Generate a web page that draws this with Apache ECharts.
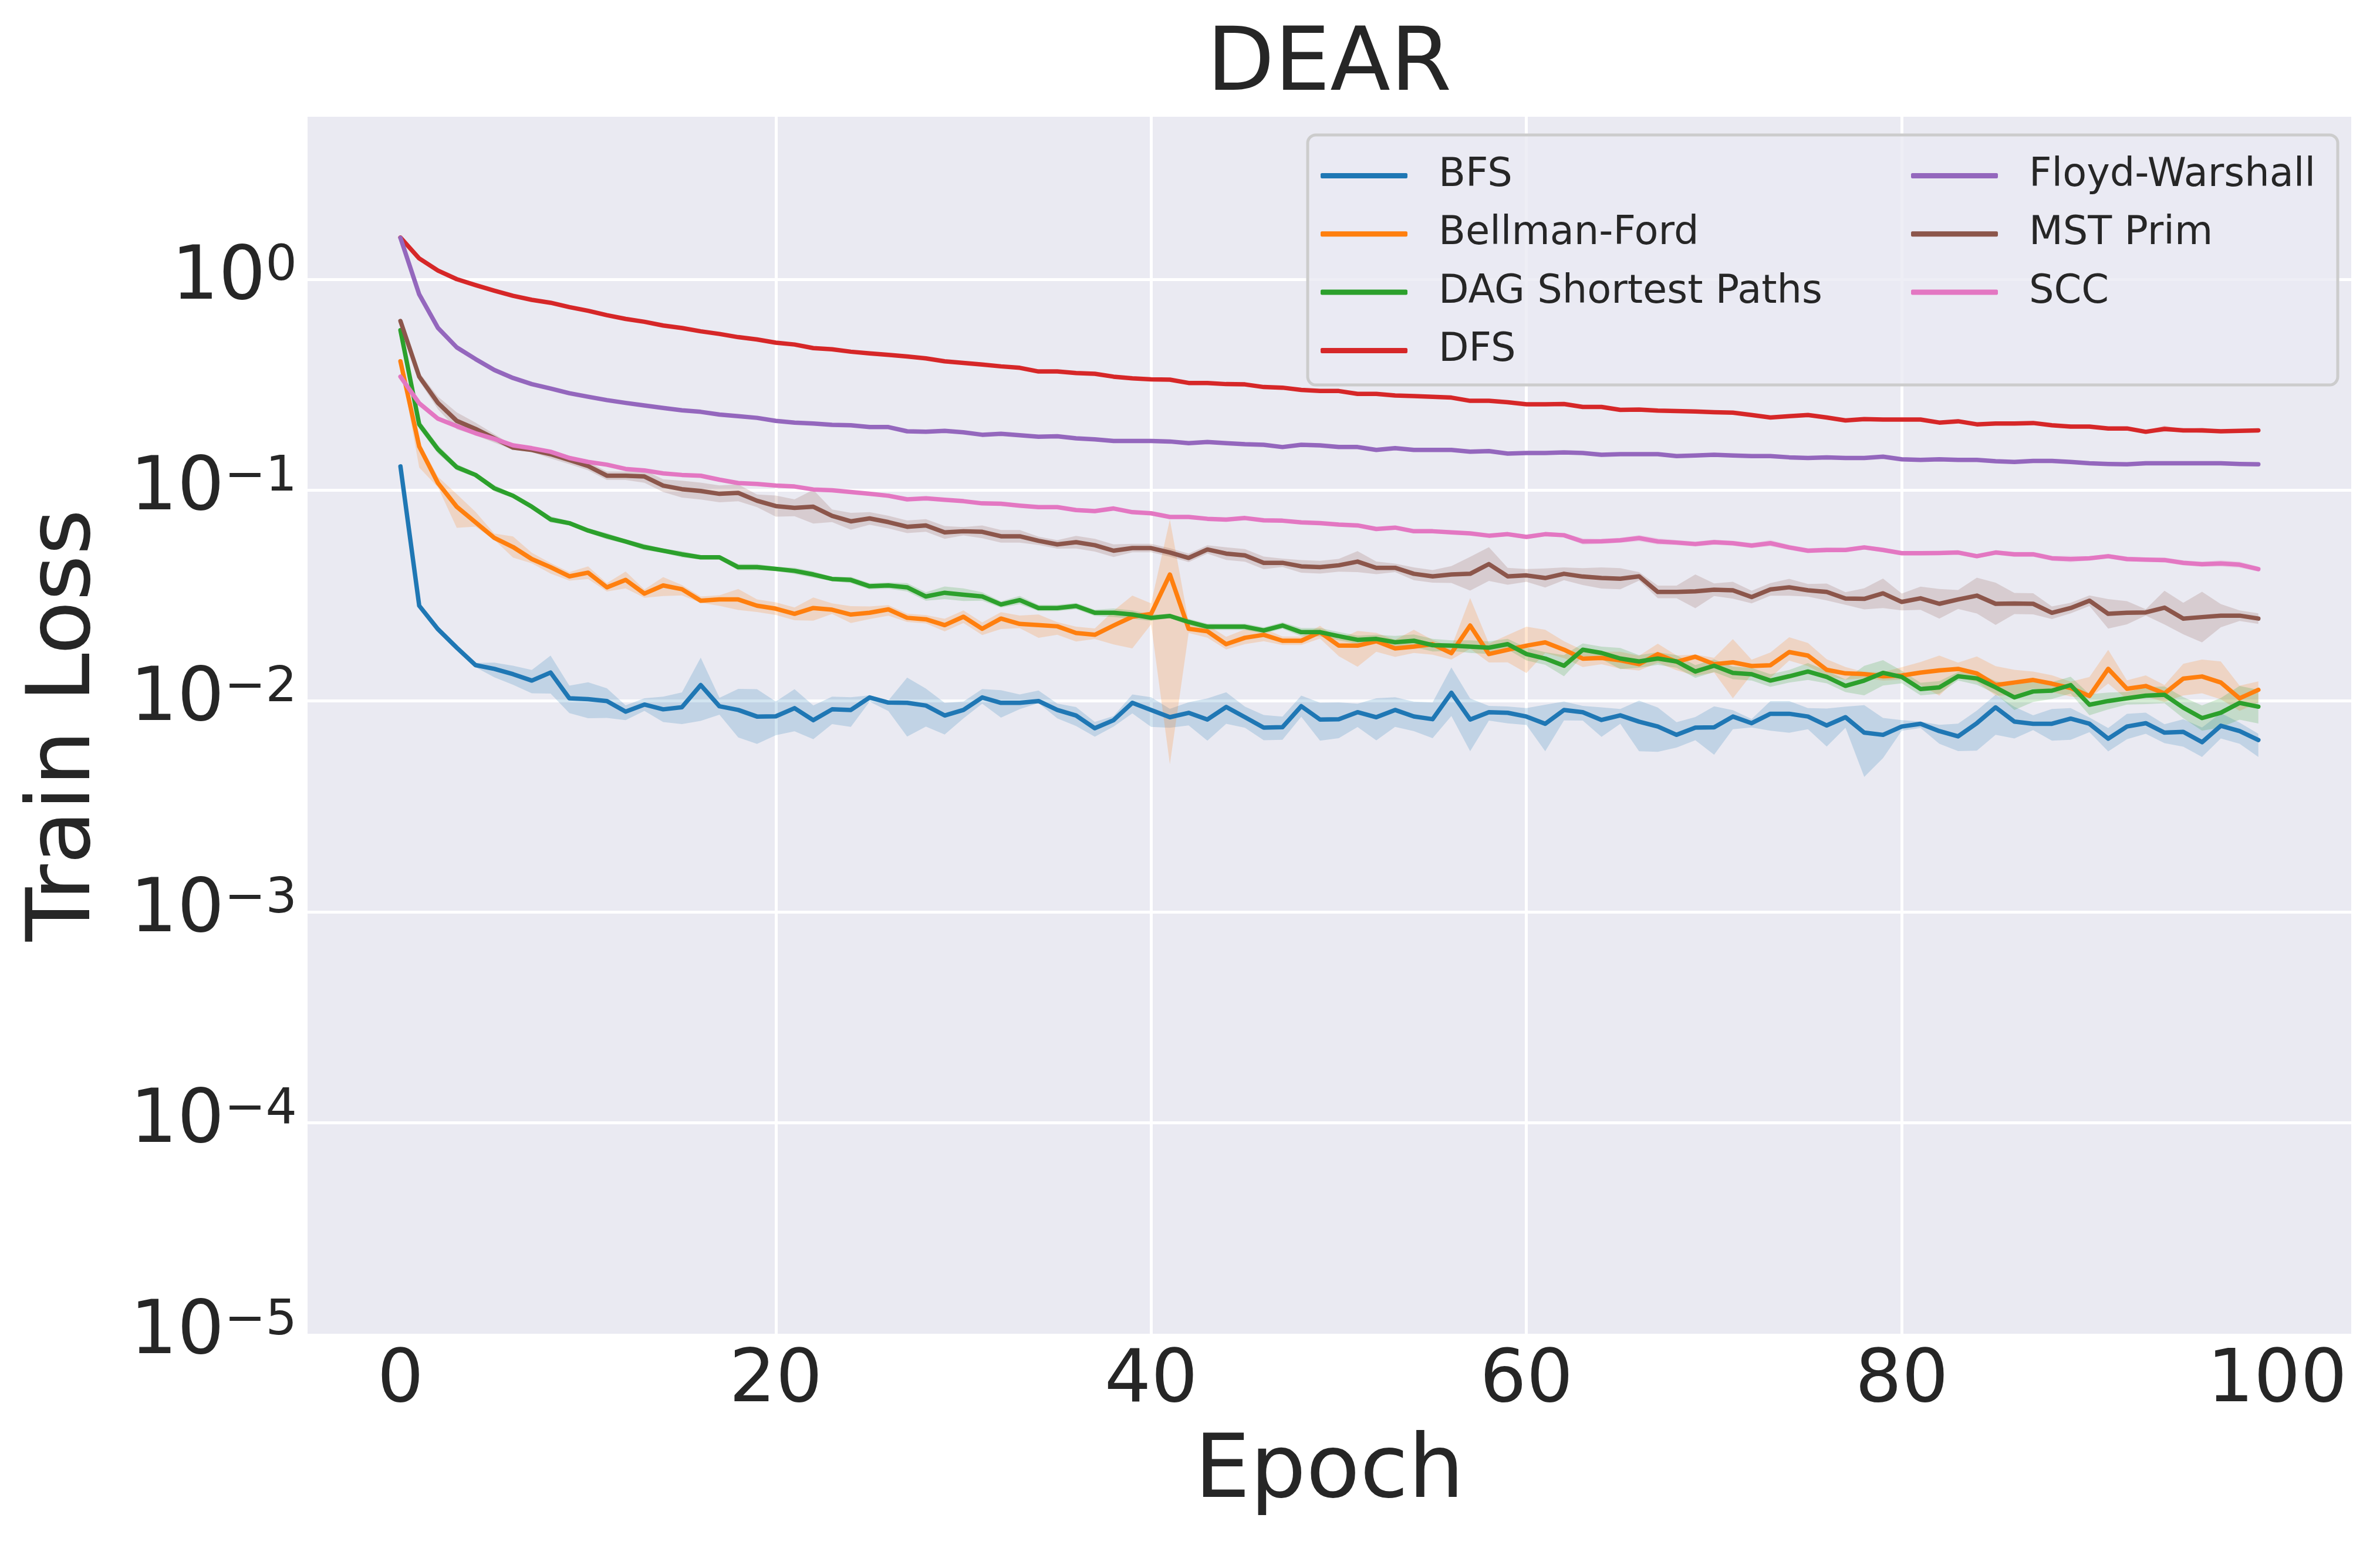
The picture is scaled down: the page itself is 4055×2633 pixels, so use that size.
<!DOCTYPE html>
<html>
<head>
<meta charset="utf-8">
<title>DEAR</title>
<script src="https://cdn.jsdelivr.net/npm/echarts@6.0.0/dist/echarts.min.js"></script>
<style>
  html, body { margin: 0; padding: 0; background: #ffffff; }
  #chart { width: 4055px; height: 2633px; }
</style>
</head>
<body>
<div id="chart"></div>
<script>
// 每个算法的训练损失（均值）以及阴影带宽度（log10 十进位）
const epochs = Array.from({ length: 100 }, (_, i) => i);
const xTicks = [0, 20, 40, 60, 80, 100];
const names = ['BFS', 'Bellman-Ford', 'DAG Shortest Paths', 'DFS', 'Floyd-Warshall', 'MST Prim', 'SCC'];
const colors = ['#1f77b4', '#ff7f0e', '#2ca02c', '#d62728', '#9467bd', '#8c564b', '#e377c2'];

const bfsLoss = [
  0.1295, 0.0283, 0.0219, 0.0179, 0.0148, 0.0142, 0.0134, 0.0125, 0.01365, 0.0103,
  0.0102, 0.0100, 0.0089, 0.00962, 0.00913, 0.00935, 0.0119, 0.00944, 0.00907, 0.00844,
  0.00846, 0.00925, 0.00811, 0.00913, 0.00907, 0.0104, 0.00983, 0.0098, 0.00952, 0.00854,
  0.00907, 0.0104, 0.0098, 0.0098, 0.0100, 0.00907, 0.00854, 0.00743, 0.00811, 0.0098,
  0.00907, 0.00838, 0.00879, 0.00817, 0.00937, 0.00838, 0.00748, 0.00752, 0.00945, 0.00817,
  0.0082, 0.00885, 0.00838, 0.00907, 0.00845, 0.0082, 0.01094, 0.00817, 0.00885, 0.00879,
  0.00844, 0.0078, 0.00907, 0.00885, 0.00813, 0.00855, 0.00798, 0.00757, 0.00691, 0.00748,
  0.0075, 0.00844, 0.00785, 0.0087, 0.0087, 0.00844, 0.00766, 0.00838, 0.00708, 0.00691,
  0.00757, 0.0078, 0.0072, 0.0068, 0.00785, 0.00933, 0.00799, 0.0078, 0.0078, 0.00825,
  0.0078, 0.00663, 0.00757, 0.00785, 0.00708, 0.00714, 0.00638, 0.00763, 0.0072, 0.00653
];
const bfsUp = [
  .01, .01, .01, .01, .01, .03, .04, .05, .08, .06,
  .08, .06, .03, .03, .06, .07, .13, .04, .1, .13,
  .07, .09, .07, .06, .06, .01, .01, .12, .08, .06,
  .04, .04, .06, .04, .05, .03, .04, .03, .02, .04,
  .06, .04, .05, .1, .07, .05, .06, .05, .05, .08,
  .08, .04, .09, .06, .07, .08, .12, .1, .03, .03,
  .04, .09, .04, .03, .06, .03, .1, .09, .06, .05,
  .1, .03, .02, .06, .06, .04, .08, .05, .13, .08,
  .03, .01, .03, .06, .06, .06, .07, .04, .07, .05,
  .03, .05, .06, .05, .04, .06, .07, .06, .04, .03
];
const bfsDown = [
  .01, .01, .01, .01, .01, .04, .05, .06, .1, .07,
  .09, .08, .04, .03, .06, .08, .17, .04, .13, .13,
  .09, .11, .09, .07, .08, .02, .04, .16, .1, .09,
  .04, .03, .07, .03, .01, .04, .05, .04, .03, .05,
  .08, .05, .06, .1, .08, .05, .06, .06, .05, .1,
  .09, .07, .11, .08, .07, .09, .11, .15, .04, .05,
  .04, .13, .05, .04, .08, .04, .14, .12, .06, .06,
  .13, .06, .02, .08, .09, .06, .1, .05, .21, .11,
  .02, .02, .06, .07, .13, .13, .08, .03, .08, .1,
  .04, .06, .06, .05, .05, .07, .07, .06, .06, .08
];

const bfLoss = [
  0.408, 0.161, 0.108, 0.0834, 0.0703, 0.0594, 0.0537, 0.0471, 0.0431, 0.039,
  0.0406, 0.0346, 0.0375, 0.0323, 0.0353, 0.0339, 0.0299, 0.0303, 0.0303, 0.0283,
  0.0274, 0.0259, 0.0276, 0.0271, 0.0257, 0.0262, 0.0272, 0.0248, 0.0244, 0.0229,
  0.0251, 0.022, 0.0246, 0.0232, 0.0229, 0.0226, 0.021, 0.0206, 0.0228, 0.0251,
  0.0259, 0.0398, 0.022, 0.0214, 0.0186, 0.01995, 0.0206, 0.0193, 0.0193, 0.0212,
  0.0183, 0.0183, 0.0192, 0.01776, 0.0181, 0.0186, 0.01685, 0.0228, 0.0167, 0.0175,
  0.0183, 0.01897, 0.01751, 0.01588, 0.016, 0.0156, 0.01495, 0.01667, 0.01535, 0.01622,
  0.01495, 0.01525, 0.01466, 0.01478, 0.01706, 0.01642, 0.01406, 0.01352, 0.01342, 0.0131,
  0.0132, 0.01364, 0.01397, 0.0142, 0.01352, 0.0119, 0.01224, 0.01258, 0.01209, 0.01152,
  0.01056, 0.0142, 0.01143, 0.01178, 0.01086, 0.01277, 0.01307, 0.01224, 0.0103, 0.0113
];
const bfUp = [
  .01, .02, .03, .06, .05, .02, .05, .03, .02, .02,
  .03, .02, .04, .02, .04, .02, .02, .02, .05, .03,
  .03, .03, .05, .03, .04, .03, .02, .02, .02, .03,
  .03, .03, .03, .04, .05, .02, .03, .03, .07, .1,
  .05, .26, .03, .03, .035, .04, .03, .02, .02, .03,
  .03, .07, .04, .04, .08, .02, .03, .13, .05, .07,
  .09, .06, .04, .04, .03, .04, .04, .05, .03, .01,
  .03, .11, .03, .06, .07, .06, .05, .03, .01, .02,
  .04, .05, .07, .03, .08, .09, .06, .04, .04, .03,
  .09, .09, .04, .05, .04, .07, .08, .1, .06, .04
];
const bfDown = [
  .01, .1, .02, .1, .02, .01, .05, .02, .03, .02,
  .03, .02, .04, .02, .05, .03, .01, .03, .05, .03,
  .03, .03, .06, .02, .04, .03, .03, .02, .02, .03,
  .03, .03, .05, .02, .06, .04, .04, .02, .09, .15,
  .05, .9, .02, .03, .025, .03, .03, .02, .02, .03,
  .05, .1, .05, .04, .03, .05, .03, .11, .04, .06,
  .13, .05, .04, .04, .03, .04, .03, .04, .04, .09,
  .04, .17, .04, .06, .04, .05, .03, .03, .02, .02,
  .02, .06, .12, .04, .04, .05, .06, .04, .04, .04,
  .01, .07, .05, .05, .04, .08, .08, .08, .06, .06
];

const dagLoss = [
  0.573, 0.205, 0.156, 0.1284, 0.118, 0.102, 0.094, 0.0834, 0.0726, 0.0697,
  0.0643, 0.0604, 0.057, 0.0537, 0.0516, 0.0496, 0.048, 0.048, 0.0431, 0.0431,
  0.0423, 0.0414, 0.0398, 0.0379, 0.0375, 0.035, 0.0353, 0.0346, 0.0313, 0.0326,
  0.0319, 0.0313, 0.0287, 0.0301, 0.0276, 0.0276, 0.0282, 0.0262, 0.0262, 0.0257,
  0.0248, 0.0253, 0.0237, 0.0225, 0.0225, 0.0225, 0.0216, 0.0228, 0.0212, 0.0212,
  0.0203, 0.0195, 0.0197, 0.019, 0.0193, 0.0184, 0.0183, 0.0181, 0.0179, 0.0186,
  0.0167, 0.0159, 0.0147, 0.0175, 0.0169, 0.0159, 0.0154, 0.0159, 0.0154, 0.0138,
  0.0147, 0.0136, 0.0134, 0.0125, 0.0131, 0.0138, 0.013, 0.0118, 0.0125, 0.0136,
  0.013, 0.0114, 0.0116, 0.0131, 0.0128, 0.0116, 0.0104, 0.0111, 0.0112, 0.0119,
  0.0096, 0.01, 0.0103, 0.0106, 0.0107, 0.0093, 0.0083, 0.0088, 0.0098, 0.0094
];
const dagSpread = [
  .01, .02, .02, .015, .01, .015, .01, .01, .015, .01,
  .01, .015, .01, .015, .01, .015, .01, .01, .015, .015,
  .01, .015, .015, .01, .015, .015, .015, .02, .02, .03,
  .03, .02, .015, .02, .015, .015, .015, .015, .02, .02,
  .015, .01, .015, .015, .015, .015, .015, .015, .02, .02,
  .02, .02, .02, .03, .03, .03, .025, .03, .03, .025,
  .03, .03, .05, .03, .03, .05, .03, .03, .03, .03,
  .03, .03, .03, .03, .03, .04, .03, .03, .07, .06,
  .03, .03, .03, .02, .03, .03, .06, .05, .04, .04,
  .05, .04, .03, .04, .04, .05, .06, .07, .08, .08
];

const dfsLoss = [
  1.575, 1.254, 1.099, 1.0, 0.937, 0.882, 0.834, 0.798, 0.773, 0.737,
  0.708, 0.675, 0.648, 0.628, 0.603, 0.587, 0.566, 0.55, 0.531, 0.518,
  0.5, 0.49, 0.471, 0.465, 0.453, 0.445, 0.438, 0.43, 0.421, 0.408,
  0.401, 0.394, 0.386, 0.38, 0.365, 0.365, 0.359, 0.356, 0.345, 0.339,
  0.335, 0.334, 0.322, 0.322, 0.318, 0.317, 0.308, 0.306, 0.2985, 0.295,
  0.295, 0.286, 0.286, 0.281, 0.279, 0.277, 0.2745, 0.265, 0.265, 0.261,
  0.255, 0.255, 0.256, 0.248, 0.248, 0.24, 0.241, 0.238, 0.237, 0.236,
  0.234, 0.233, 0.227, 0.221, 0.224, 0.227, 0.221, 0.214, 0.217, 0.216,
  0.216, 0.216, 0.209, 0.212, 0.205, 0.207, 0.207, 0.208, 0.203, 0.2,
  0.2, 0.196, 0.196, 0.189, 0.195, 0.192, 0.192, 0.19, 0.191, 0.192
];
const dfsSpread = [
  .005, .005, .005, .005, .005, .005, .005, .005, .005, .005,
  .005, .005, .005, .005, .005, .008, .005, .005, .008, .005,
  .005, .008, .005, .008, .005, .005, .005, .008, .005, .005,
  .008, .005, .005, .008, .005, .005, .008, .005, .005, .005,
  .005, .005, .008, .005, .005, .008, .005, .005, .005, .008,
  .005, .005, .008, .005, .005, .005, .008, .005, .005, .005,
  .005, .005, .005, .008, .005, .005, .005, .008, .005, .005,
  .008, .005, .005, .008, .005, .005, .005, .005, .008, .005,
  .005, .008, .005, .005, .008, .005, .008, .005, .005, .01,
  .005, .008, .005, .005, .015, .005, .012, .008, .005, .005
];

const fwLoss = [
  1.57, 0.847, 0.587, 0.475, 0.418, 0.371, 0.34, 0.318, 0.303, 0.288,
  0.277, 0.267, 0.259, 0.252, 0.245, 0.239, 0.235, 0.228, 0.224, 0.22,
  0.213, 0.209, 0.207, 0.204, 0.203, 0.199, 0.199, 0.19, 0.189, 0.191,
  0.188, 0.183, 0.185, 0.182, 0.179, 0.18, 0.176, 0.174, 0.171, 0.171,
  0.171, 0.17, 0.167, 0.169, 0.167, 0.165, 0.164, 0.16, 0.164, 0.163,
  0.16, 0.16, 0.155, 0.158, 0.155, 0.155, 0.155, 0.152, 0.153, 0.149,
  0.15, 0.15, 0.151, 0.15, 0.147, 0.148, 0.148, 0.148, 0.145, 0.146,
  0.147, 0.146, 0.145, 0.145, 0.143, 0.142, 0.143, 0.142, 0.142, 0.144,
  0.14, 0.139, 0.14, 0.139, 0.139, 0.137, 0.136, 0.1375, 0.1375, 0.136,
  0.134, 0.133, 0.1325, 0.134, 0.134, 0.134, 0.134, 0.134, 0.133, 0.1325
];
const fwSpread = [
  .005, .005, .008, .01, .01, .01, .01, .008, .008, .008,
  .005, .005, .008, .005, .005, .005, .008, .005, .005, .005,
  .005, .005, .008, .005, .005, .005, .005, .008, .005, .005,
  .005, .008, .005, .005, .005, .005, .005, .008, .005, .005,
  .005, .005, .005, .005, .008, .005, .005, .005, .005, .005,
  .005, .005, .005, .005, .005, .008, .005, .005, .005, .005,
  .005, .005, .005, .005, .005, .005, .005, .005, .005, .005,
  .005, .005, .005, .005, .005, .005, .005, .005, .005, .005,
  .005, .005, .005, .005, .005, .005, .005, .005, .005, .005,
  .005, .005, .005, .005, .005, .005, .005, .005, .005, .005
];

const mstLoss = [
  0.633, 0.345, 0.259, 0.213, 0.195, 0.176, 0.159, 0.155, 0.148, 0.139,
  0.13, 0.117, 0.117, 0.116, 0.105, 0.101, 0.099, 0.096, 0.097, 0.089,
  0.084, 0.0824, 0.0834, 0.0755, 0.0711, 0.0734, 0.0705, 0.067, 0.068, 0.063,
  0.0638, 0.0634, 0.0604, 0.0604, 0.0575, 0.0553, 0.0566, 0.0548, 0.0516, 0.0531,
  0.0531, 0.0506, 0.0477, 0.0523, 0.05, 0.049, 0.0452, 0.0452, 0.0435, 0.0431,
  0.044, 0.0458, 0.0428, 0.0428, 0.0401, 0.039, 0.0398, 0.0401, 0.0446, 0.039,
  0.0394, 0.0383, 0.0401, 0.0389, 0.0383, 0.038, 0.039, 0.0329, 0.0329, 0.0331,
  0.0337, 0.0335, 0.0311, 0.0338, 0.0346, 0.0335, 0.0329, 0.0306, 0.0305, 0.0324,
  0.0295, 0.0307, 0.0289, 0.0303, 0.0316, 0.0289, 0.029, 0.0289, 0.0262, 0.0276,
  0.0299, 0.0259, 0.0262, 0.0263, 0.0277, 0.0246, 0.025, 0.0254, 0.0254, 0.0246
];
const mstSpread = [
  .01, .02, .03, .04, .03, .02, .01, .01, .02, .02,
  .02, .02, .02, .03, .03, .04, .04, .04, .04, .03,
  .05, .04, .08, .03, .04, .03, .03, .03, .03, .03,
  .02, .03, .03, .03, .02, .02, .03, .03, .03, .02,
  .02, .02, .02, .02, .03, .03, .03, .02, .03, .03,
  .03, .05, .03, .02, .03, .03, .04, .08, .08, .04,
  .03, .045, .03, .04, .05, .05, .02, .03, .03, .08,
  .03, .04, .03, .03, .04, .03, .04, .03, .05, .07,
  .04, .055, .07, .045, .085, .1, .05, .05, .03, .025,
  .025, .07, .055, .015, .08, .075, .12, .055, .025, .025
];

const sccLoss = [
  0.345, 0.258, 0.218, 0.201, 0.186, 0.175, 0.163, 0.158, 0.152, 0.142,
  0.136, 0.132, 0.126, 0.124, 0.12, 0.118, 0.117, 0.112, 0.108, 0.107,
  0.105, 0.104, 0.1007, 0.0998, 0.0979, 0.096, 0.094, 0.0904, 0.0914, 0.09,
  0.0886, 0.0865, 0.0862, 0.0844, 0.083, 0.083, 0.0804, 0.0795, 0.0818, 0.0786,
  0.0776, 0.0746, 0.0746, 0.0731, 0.0725, 0.0737, 0.0719, 0.0716, 0.0703, 0.0697,
  0.0686, 0.068, 0.0654, 0.0664, 0.0638, 0.0638, 0.063, 0.0623, 0.0608, 0.0618,
  0.06, 0.0618, 0.0611, 0.0571, 0.0572, 0.0578, 0.0592, 0.0571, 0.0564, 0.0555,
  0.0566, 0.056, 0.0546, 0.056, 0.0535, 0.0516, 0.052, 0.052, 0.0535, 0.052,
  0.0502, 0.0502, 0.0503, 0.0506, 0.0486, 0.0506, 0.0496, 0.0496, 0.0475, 0.0471,
  0.0475, 0.0486, 0.0471, 0.0468, 0.0466, 0.0452, 0.0445, 0.0449, 0.0443, 0.0422
];
const sccSpread = [
  .008, .008, .008, .008, .008, .008, .008, .008, .008, .008,
  .008, .008, .008, .008, .008, .008, .008, .008, .008, .008,
  .008, .008, .008, .008, .008, .008, .01, .008, .008, .008,
  .008, .008, .01, .008, .008, .008, .01, .01, .008, .008,
  .008, .008, .008, .008, .01, .008, .008, .008, .008, .008,
  .008, .008, .008, .008, .008, .008, .008, .008, .008, .01,
  .01, .01, .01, .015, .012, .012, .015, .015, .012, .012,
  .012, .012, .012, .015, .012, .012, .012, .01, .01, .01,
  .01, .01, .01, .01, .01, .01, .012, .012, .012, .015,
  .01, .01, .012, .01, .012, .012, .012, .015, .015, .012
];

const FONT = 'DejaVu Sans';
const INK = '#262626';

const algos = [
  { name: names[0], color: colors[0], loss: bfsLoss, up: bfsUp, down: bfsDown },
  { name: names[1], color: colors[1], loss: bfLoss, up: bfUp, down: bfDown },
  { name: names[2], color: colors[2], loss: dagLoss, up: dagSpread, down: dagSpread },
  { name: names[3], color: colors[3], loss: dfsLoss, up: dfsSpread, down: dfsSpread },
  { name: names[4], color: colors[4], loss: fwLoss, up: fwSpread, down: fwSpread },
  { name: names[5], color: colors[5], loss: mstLoss, up: mstSpread, down: mstSpread },
  { name: names[6], color: colors[6], loss: sccLoss, up: sccSpread, down: sccSpread }
];

// 阴影带：用 custom 系列把整条上下界拼成一个多边形
function bandRenderer(rows, color) {
  return function (params, api) {
    if (params.dataIndex !== 0) return null;
    const upper = rows.map(r => api.coord([r[0], r[2]]));
    const lower = rows.map(r => api.coord([r[0], r[1]])).reverse();
    return {
      type: 'polygon',
      shape: { points: upper.concat(lower) },
      style: { fill: color, opacity: 0.2 },
      silent: true
    };
  };
}

const series = [];
algos.forEach(a => {
  const rows = a.loss.map((v, i) => {
    const c = Math.log10(v);
    return [epochs[i], c - a.down[i], c + a.up[i]];
  });
  series.push({
    name: a.name + ' band',
    type: 'custom',
    data: rows,
    encode: { x: 0, y: [1, 2] },
    renderItem: bandRenderer(rows, a.color),
    silent: true,
    z: 2
  });
  series.push({
    name: a.name,
    type: 'line',
    data: a.loss.map((v, i) => [epochs[i], Math.log10(v)]),
    symbol: 'none',
    lineStyle: { color: a.color, width: 7.5, cap: 'round', join: 'round' },
    itemStyle: { color: a.color },
    z: 3
  });
});

function legendAt(left, data) {
  return {
    orient: 'vertical',
    left: left,
    top: 266,
    padding: 0,
    itemWidth: 148,
    itemHeight: 9,
    itemGap: 32.3,
    icon: 'roundRect',
    z: 6,
    data: data,
    textStyle: { fontFamily: FONT, fontSize: 67, lineHeight: 67, color: INK, padding: [0, 0, 0, 48] }
  };
}

const chart = echarts.init(document.getElementById('chart'), null, { renderer: 'canvas' });
chart.setOption({
  backgroundColor: '#ffffff',
  animation: false,
  title: {
    text: 'DEAR',
    left: 2056,
    top: 39,
    padding: 0,
    textStyle: { fontFamily: FONT, fontSize: 150, lineHeight: 150, fontWeight: 'normal', color: INK }
  },
  legend: [legendAt(2250, names.slice(0, 4)), legendAt(3256, names.slice(4))],
  graphic: [{
    type: 'rect',
    z: 5,
    silent: true,
    shape: { x: 2228, y: 230, width: 1755, height: 426, r: 14 },
    style: { fill: 'rgba(234,234,242,0.8)', stroke: '#cccccc', lineWidth: 5 }
  }],
  grid: {
    left: 524, top: 199, width: 3482, height: 2074,
    show: true, backgroundColor: '#eaeaf2', borderWidth: 0,
    outerBoundsMode: 'none'
  },
  xAxis: {
    type: 'value',
    min: -4.95,
    max: 103.95,
    axisLine: { show: false },
    axisTick: { show: false, customValues: xTicks },
    axisLabel: {
      customValues: xTicks,
      formatter: v => (Math.abs(v % 20) < 1e-6 ? String(v) : ''),
      fontFamily: FONT, fontSize: 125, lineHeight: 125, color: INK, margin: 20
    },
    splitLine: { show: true, showMinLine: false, showMaxLine: false, lineStyle: { color: '#ffffff', width: 5 } },
    name: 'Epoch',
    nameLocation: 'middle',
    nameGap: 164,
    nameTextStyle: { fontFamily: FONT, fontSize: 150, lineHeight: 150, color: INK }
  },
  yAxis: {
    type: 'value',
    min: -5,
    max: 0.77,
    interval: 1,
    axisLine: { show: false },
    axisTick: { show: false },
    axisLabel: {
      margin: 18,
      formatter: v => {
        if (Math.abs(v - Math.round(v)) > 1e-6) return '';
        const p = Math.round(v);
        return '{b|10}{s|' + (p < 0 ? '\u2212' + (-p) : p) + '}';
      },
      rich: {
        b: { fontFamily: FONT, fontSize: 126, lineHeight: 126, color: INK },
        s: { fontFamily: FONT, fontSize: 84, lineHeight: 58, color: INK, verticalAlign: 'top' }
      }
    },
    splitLine: { show: true, showMinLine: false, showMaxLine: false, lineStyle: { color: '#ffffff', width: 5 } },
    name: 'Train Loss',
    nameLocation: 'middle',
    nameGap: 336,
    nameTextStyle: { fontFamily: FONT, fontSize: 150, lineHeight: 150, color: INK }
  },
  series: series
});
window.addEventListener('resize', () => chart.resize());
</script>
</body>
</html>
